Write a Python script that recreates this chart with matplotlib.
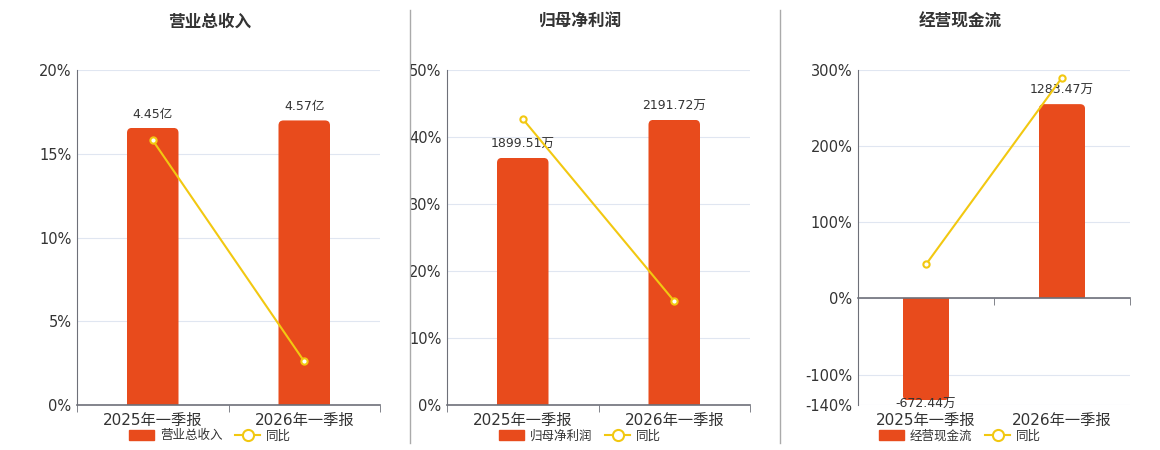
import matplotlib.pyplot as plt
from matplotlib.lines import Line2D
from matplotlib.patches import Patch, FancyBboxPatch
from matplotlib import transforms

plt.rcParams['font.family'] = ['DejaVu Sans', 'Noto Sans CJK SC']

# 数据
categories = ["2025年一季报", "2026年一季报"]
titles = ["营业总收入", "归母净利润", "经营现金流"]
bar_values = [
    [4.45, 4.57],          # 亿
    [1899.51, 2191.72],    # 万
    [-672.44, 1283.47],    # 万
]
bar_labels = [
    ["4.45亿", "4.57亿"],
    ["1899.51万", "2191.72万"],
    ["-672.44万", "1283.47万"],
]
yoy_values = [
    [15.8, 2.6],
    [42.7, 15.5],
    [44.7, 290.0],
]
y_ticks = [
    [0, 5, 10, 15, 20],
    [0, 10, 20, 30, 40, 50],
    [-140, -100, 0, 100, 200, 300],
]

BAR = "#E84B1C"
LINE = "#F2C811"
AXIS = "#6E7079"
GRID = "#E0E6F1"
TXT = "#333333"

# 画布布局 (像素)
W, H = 1160, 450
panel_box = [(77, 380), (447, 750), (858, 1130)]
panel_center = [210, 580, 960]
bar_scale = [0.269, 51.5, 5.03]   # 隐藏副轴: 柱值 / 百分比
top_px, bot_px = 70, 405
radius_px = 5

fig = plt.figure(figsize=(W / 100, H / 100), dpi=100)

for i in range(3):
    x0, x1 = panel_box[i]
    ax = fig.add_axes([x0 / W, 1 - bot_px / H, (x1 - x0) / W, (bot_px - top_px) / H])
    ax2 = ax.twinx()
    ax.set_zorder(ax2.get_zorder() + 1)
    ax.patch.set_visible(False)

    ticks = y_ticks[i]
    ylim = (min(ticks), max(ticks))
    k = bar_scale[i]
    ax.set_ylim(*ylim)
    ax2.set_ylim(ylim[0] * k, ylim[1] * k)
    ax.set_xlim(-0.5, 1.5)
    ax2.set_xlim(-0.5, 1.5)

    # 网格放在柱子下面
    ax2.set_yticks([t * k for t in ticks])
    ax2.yaxis.grid(True, color=GRID, linewidth=0.8)
    ax2.tick_params(axis='y', length=0, labelright=False)
    ax2.set_axisbelow(True)
    for s in ax2.spines.values():
        s.set_visible(False)

    xs = list(range(len(categories)))
    bars = ax2.bar(xs, bar_values[i], width=0.34, color=BAR, zorder=2)

    # 圆角柱顶
    dx = 2.0 / (x1 - x0)
    dy = (ylim[1] - ylim[0]) * k / (bot_px - top_px)
    r = radius_px * dx
    for b in bars:
        b.set_visible(False)
        bx, by, bw, bh = b.get_x(), b.get_y(), b.get_width(), b.get_height()
        ext = radius_px * dy
        if bh >= 0:
            rb = FancyBboxPatch((bx, by - ext), bw, bh + ext,
                                boxstyle=f"round,pad=0,rounding_size={r}",
                                mutation_aspect=dy / dx, facecolor=BAR,
                                edgecolor="none", zorder=2)
        else:
            rb = FancyBboxPatch((bx, by + bh), bw, -bh + ext,
                                boxstyle=f"round,pad=0,rounding_size={r}",
                                mutation_aspect=dy / dx, facecolor=BAR,
                                edgecolor="none", zorder=2)
        ax2.add_patch(rb)
        rb.set_clip_path(b)

    for b, lab, v in zip(bars, bar_labels[i], bar_values[i]):
        if v >= 0:
            ax2.annotate(lab, (b.get_x() + b.get_width() / 2, v), xytext=(0, 5),
                         textcoords="offset points", ha="center", va="bottom",
                         fontsize=9, color=TXT, zorder=5)
        else:
            ax2.annotate(lab, (b.get_x() + b.get_width() / 2, v), xytext=(0, 2),
                         textcoords="offset points", ha="center", va="top",
                         fontsize=9, color=TXT, zorder=5)

    ax.plot(xs, yoy_values[i], color=LINE, linewidth=1.5, marker="o",
            markersize=4.5, markerfacecolor="white", markeredgecolor=LINE,
            markeredgewidth=1.5, zorder=4)

    ax.set_yticks(ticks)
    ax.set_yticklabels([f"{t}%" for t in ticks])
    ax.tick_params(axis='y', length=0, pad=4, labelsize=10.5, labelcolor=TXT)

    for s in ["top", "right"]:
        ax.spines[s].set_visible(False)
    ax.spines["left"].set_color(AXIS)
    ax.spines["bottom"].set_color(AXIS)
    ax.spines["bottom"].set_linewidth(1.2)
    ax.spines["bottom"].set_position(("data", 0))

    ax.set_xticks([])
    ax.set_xticks([-0.5, 0.5, 1.5], minor=True)
    ax.tick_params(axis='x', which='minor', length=5, color=AXIS, direction='out')

    trans = transforms.blended_transform_factory(ax.transData, ax.transAxes)
    for x, c in zip(xs, categories):
        ax.text(x, -0.024, c, transform=trans, ha="center", va="top",
                fontsize=11, color=TXT)

    fig.text(panel_center[i] / W, 1 - 22 / H, titles[i], ha="center", va="center",
             fontsize=12, fontweight="bold", color=TXT)

    handles = [
        Patch(facecolor=BAR, edgecolor=BAR),
        Line2D([0], [0], color=LINE, linewidth=1.5, marker="o", markersize=8,
               markerfacecolor="white", markeredgecolor=LINE, markeredgewidth=1.5),
    ]
    fig.legend(handles, [titles[i], "同比"], loc="center",
               bbox_to_anchor=(panel_center[i] / W, 1 - 436 / H), ncol=2,
               frameon=False, fontsize=9, handlelength=2.0, handleheight=0.9,
               columnspacing=1.0, handletextpad=0.5, labelcolor=TXT)

# 分隔线
for xp in [410, 780]:
    fig.add_artist(Line2D([xp / W, xp / W], [1 - 10 / H, 1 - 443 / H],
                          color="#AAAAAA", linewidth=1))

fig.savefig("out.png", dpi=100)
